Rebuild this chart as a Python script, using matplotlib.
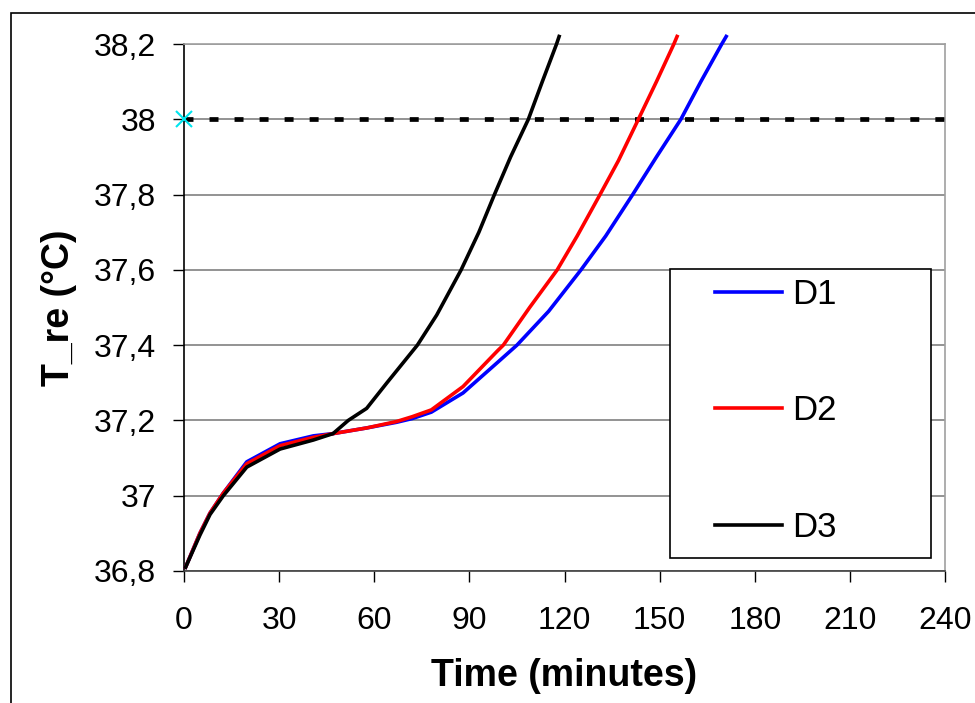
import matplotlib
matplotlib.use("Agg")
import matplotlib.pyplot as plt
from matplotlib.patches import Rectangle

# values
d1_t = [0.5, 5, 8.2, 12.4, 19.8, 30.3, 40.8, 47, 57.6, 67, 72, 78, 88, 99, 105, 115, 125.2, 133, 141.5, 149, 156.7, 163, 169.6, 171]
d1_T = [36.81, 36.90, 36.954, 37.007, 37.09, 37.138, 37.159, 37.165, 37.18, 37.195, 37.205, 37.222, 37.273, 37.355, 37.40, 37.49, 37.60, 37.69, 37.80, 37.90, 38.00, 38.10, 38.20, 38.22]

d2_t = [0.5, 5, 8.2, 12.4, 19.8, 30.3, 40.8, 47, 57.6, 67, 72, 78, 88, 99, 100.7, 109, 117.7, 124, 131.2, 137, 143.3, 149, 154.5, 155.5]
d2_T = [36.81, 36.90, 36.954, 37.007, 37.085, 37.133, 37.155, 37.165, 37.18, 37.197, 37.21, 37.228, 37.29, 37.386, 37.40, 37.50, 37.60, 37.69, 37.80, 37.89, 38.00, 38.10, 38.20, 38.22]

d3_t = [0.5, 5, 8.2, 12.4, 19.8, 30.3, 40.8, 47, 51.8, 57.6, 64, 73.6, 79.7, 87.4, 93, 97.9, 103, 108.6, 113, 117.5, 118.3]
d3_T = [36.81, 36.895, 36.95, 37.0, 37.076, 37.124, 37.148, 37.165, 37.20, 37.232, 37.30, 37.40, 37.48, 37.60, 37.70, 37.80, 37.90, 38.00, 38.10, 38.20, 38.22]

threshold = 38.0
x_ticks = [0, 30, 60, 90, 120, 150, 180, 210, 240]
y_ticks = [36.8, 37.0, 37.2, 37.4, 37.6, 37.8, 38.0, 38.2]
y_tick_labels = ["36,8", "37", "37,2", "37,4", "37,6", "37,8", "38", "38,2"]

plt.rcParams["font.family"] = ["Liberation Sans", "DejaVu Sans"]

W, H = 975, 703
fig = plt.figure(figsize=(W / 100, H / 100), dpi=100)
ax = fig.add_axes([184 / W, 1 - 571 / H, (945 - 184) / W, (571 - 44) / H])

# outer frame of the chart (right and bottom edges fall outside the image)
fig.patches.append(Rectangle((11 / W, -0.1), 1.2, 1 - 13 / H + 0.1, transform=fig.transFigure,
                             fill=False, edgecolor="black", linewidth=1.2))

ax.set_xlim(0, 240)
ax.set_ylim(36.8, 38.2)
ax.set_xticks(x_ticks)
ax.set_yticks(y_ticks)
ax.set_yticklabels(y_tick_labels)
ax.tick_params(axis="both", labelsize=23, direction="out", length=8, width=1, color="black")
ax.tick_params(axis="y", pad=12)
ax.tick_params(axis="x", pad=17)

ax.yaxis.grid(True, color="#808080", linewidth=1.2)
ax.set_axisbelow(True)
for side in ["top", "right"]:
    ax.spines[side].set_color("#a0a0a0")
    ax.spines[side].set_linewidth(1.2)
ax.spines["left"].set_color("black")
ax.spines["bottom"].set_color("#404040")
ax.spines["left"].set_linewidth(1.2)
ax.spines["bottom"].set_linewidth(1.2)

ax.plot([0, 240], [threshold, threshold], color="black", linewidth=3.4,
        dashes=(1.9, 3.4), dash_capstyle="butt", zorder=3)
ax.plot([0], [threshold], marker="x", color="#00e5ee", markersize=12,
        markeredgewidth=1.5, clip_on=False, zorder=4)

ax.plot(d1_t, d1_T, color="#0000ff", linewidth=2.6, label="D1", clip_on=False, zorder=3)
ax.plot(d2_t, d2_T, color="#ff0000", linewidth=2.6, label="D2", clip_on=False, zorder=3)
ax.plot(d3_t, d3_T, color="black", linewidth=2.6, label="D3", clip_on=False, zorder=3)

ax.set_xlabel("Time (minutes)", fontsize=27, fontweight="bold", labelpad=16)
ax.set_ylabel("T_re (°C)", fontsize=27, fontweight="bold", labelpad=12)

# legend box drawn separately so its size matches the reference
ax.add_patch(Rectangle((670 / W, 1 - 558 / H), (931 - 670) / W, (558 - 269) / H,
                       transform=fig.transFigure, facecolor="white", edgecolor="black",
                       linewidth=1.2, clip_on=False, zorder=4.5))
ax.legend(loc="upper left", bbox_to_anchor=(715 / W, 1 - 278 / H), bbox_transform=fig.transFigure,
          frameon=False, fontsize=25, borderpad=0, borderaxespad=0, handlelength=1.93,
          handletextpad=0.3, labelspacing=2.4)

fig.savefig("out.png", dpi=100)
